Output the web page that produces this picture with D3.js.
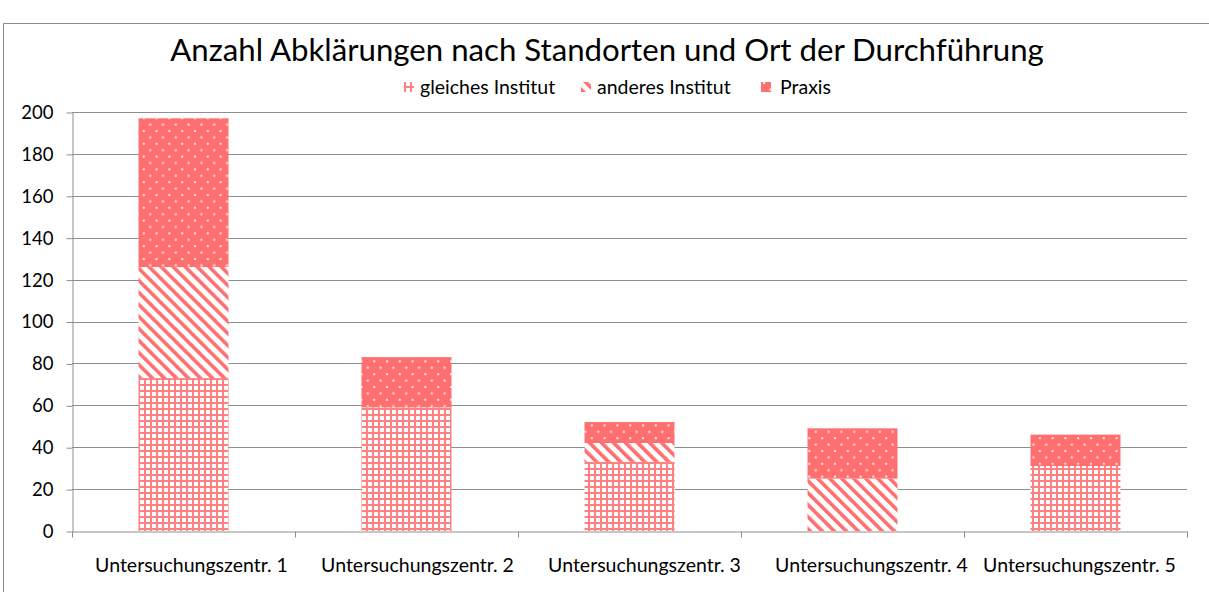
<!DOCTYPE html>
<html>
<head>
<meta charset="utf-8">
<script src="https://cdn.jsdelivr.net/npm/d3@7"></script>
<style>
  body { margin: 0; background: #fff; }
  text { font-family: Lato, "Open Sans", sans-serif; fill: #000; }
</style>
</head>
<body>
<div id="chart"></div>
<script>
const categories = ["Untersuchungszentr. 1", "Untersuchungszentr. 2", "Untersuchungszentr. 3", "Untersuchungszentr. 4", "Untersuchungszentr. 5"];
const seriesNames = ["gleiches Institut", "anderes Institut", "Praxis"];
const gleiches = [73, 59, 33, 0, 31];
const anderes = [53, 0, 9, 25, 0];
const praxis = [71, 24, 10, 24, 15];
const yTicks = [0, 20, 40, 60, 80, 100, 120, 140, 160, 180, 200];
const chartTitle = "Anzahl Abklärungen nach Standorten und Ort der Durchführung";

const width = 1209, height = 592;
const margin = {top: 112, right: 22, bottom: 61, left: 72};
const red = "#ff6f6f";
const grid = "#8f8f8f";
// label nudges (Excel does not quite centre category labels)
const labelShift = [8, 11, 15, 19, 4];

const svg = d3.select("#chart").append("svg")
  .attr("width", width)
  .attr("height", height);

// patterns
const defs = svg.append("defs");
const pGrid = defs.append("pattern").attr("id", "p-grid")
  .attr("patternUnits", "userSpaceOnUse").attr("width", 6).attr("height", 6);
pGrid.append("rect").attr("width", 6).attr("height", 6).attr("fill", "#fff");
pGrid.append("rect").attr("x", 0).attr("y", 0).attr("width", 2).attr("height", 6).attr("fill", "#ff8080");
pGrid.append("rect").attr("x", 0).attr("y", 0).attr("width", 6).attr("height", 2).attr("fill", "#ff8080");

const pDiag = defs.append("pattern").attr("id", "p-diag")
  .attr("patternUnits", "userSpaceOnUse").attr("width", 8.5).attr("height", 8.5)
  .attr("patternTransform", "rotate(-45)");
pDiag.append("rect").attr("width", 8.5).attr("height", 8.5).attr("fill", "#fff");
pDiag.append("rect").attr("width", 3.6).attr("height", 8.5).attr("fill", red);

const pDots = defs.append("pattern").attr("id", "p-dots")
  .attr("patternUnits", "userSpaceOnUse").attr("width", 12.8).attr("height", 12.8);
pDots.append("rect").attr("width", 12.8).attr("height", 12.8).attr("fill", red);
pDots.append("rect").attr("x", 2).attr("y", 2).attr("width", 2).attr("height", 2).attr("fill", "#fff").attr("opacity", 0.85);
pDots.append("rect").attr("x", 8.4).attr("y", 8.4).attr("width", 2).attr("height", 2).attr("fill", "#fff").attr("opacity", 0.85);

const fills = ["url(#p-grid)", "url(#p-diag)", "url(#p-dots)"];

// outer frame
svg.append("path")
  .attr("d", "M3.5," + height + "V23.5H" + width)
  .attr("fill", "none").attr("stroke", "#8a8a8a");

// caption above the frame, cut off by the picture edge
svg.append("text").attr("x", 538).attr("y", -3)
  .style("font-size", "18px").text("g");

const x = d3.scaleBand()
  .domain(categories)
  .range([margin.left, width - margin.right])
  .paddingInner(0).paddingOuter(0);

const y = d3.scaleLinear()
  .domain([0, 200])
  .range([height - margin.bottom, margin.top]);

// gridlines
svg.append("g")
  .selectAll("line")
  .data(yTicks.filter(d => d > 0))
  .enter().append("line")
    .attr("x1", margin.left).attr("x2", width - margin.right)
    .attr("y1", d => Math.round(y(d)) + 0.5).attr("y2", d => Math.round(y(d)) + 0.5)
    .attr("stroke", grid);

// y axis
const yAxis = svg.append("g")
  .attr("transform", "translate(" + (margin.left + 0.5) + ",0.5)")
  .call(d3.axisLeft(y).tickValues(yTicks).tickSize(6).tickPadding(13).tickSizeOuter(0));
yAxis.select(".domain").attr("stroke", grid);
yAxis.selectAll(".tick line").attr("stroke", grid);
yAxis.selectAll(".tick text").style("font-size", "18.5px").style("font-family", "Lato, sans-serif").attr("fill", "#000");

// stacked bars
const rows = categories.map((c, i) => ({cat: c, g: gleiches[i], a: anderes[i], p: praxis[i]}));
const stack = d3.stack().keys(["g", "a", "p"]);
const layers = stack(rows);
const barW = 90;

svg.append("g")
  .selectAll("g")
  .data(layers)
  .enter().append("g")
    .attr("fill", (d, i) => fills[i])
  .selectAll("rect")
  .data(d => d)
  .enter().append("rect")
    .attr("x", d => x(d.data.cat) + x.bandwidth() / 2 - barW / 2)
    .attr("width", barW)
    .attr("y", d => y(d[1]))
    .attr("height", d => y(d[0]) - y(d[1]));

// x axis
const xAxis = svg.append("g")
  .attr("transform", "translate(0," + (Math.round(y(0)) + 0.5) + ")")
  .call(d3.axisBottom(x).tickSize(0).tickPadding(27));
xAxis.select(".domain").attr("stroke", grid);
xAxis.selectAll(".tick text")
  .attr("dx", (d, i) => labelShift[i])
  .style("font-size", "19.5px").style("font-family", "Lato, sans-serif").attr("fill", "#000");
const bounds = categories.map(c => x(c)).concat([x(categories[categories.length - 1]) + x.bandwidth()]);
xAxis.selectAll(".bound")
  .data(bounds)
  .enter().append("line")
    .attr("class", "bound")
    .attr("x1", d => Math.round(d) + 0.5).attr("x2", d => Math.round(d) + 0.5)
    .attr("y1", 0).attr("y2", 6)
    .attr("stroke", grid);

// title
svg.append("text")
  .attr("x", 607).attr("y", 61)
  .attr("text-anchor", "middle")
  .style("font-size", "31.2px")
  .text(chartTitle);

// legend
const legendX = [404, 581, 761];
const legend = svg.append("g")
  .selectAll("g")
  .data(seriesNames)
  .enter().append("g")
    .attr("transform", (d, i) => "translate(" + legendX[i] + ",80)");
legend.append("rect")
  .attr("width", 10).attr("height", 10).attr("y", 2)
  .attr("fill", (d, i) => fills[i]);
legend.append("text")
  .attr("x", (d, i) => i === 2 ? 19 : 16)
  .attr("y", 14)
  .style("font-size", "19.5px")
  .text(d => d);
</script>
</body>
</html>
